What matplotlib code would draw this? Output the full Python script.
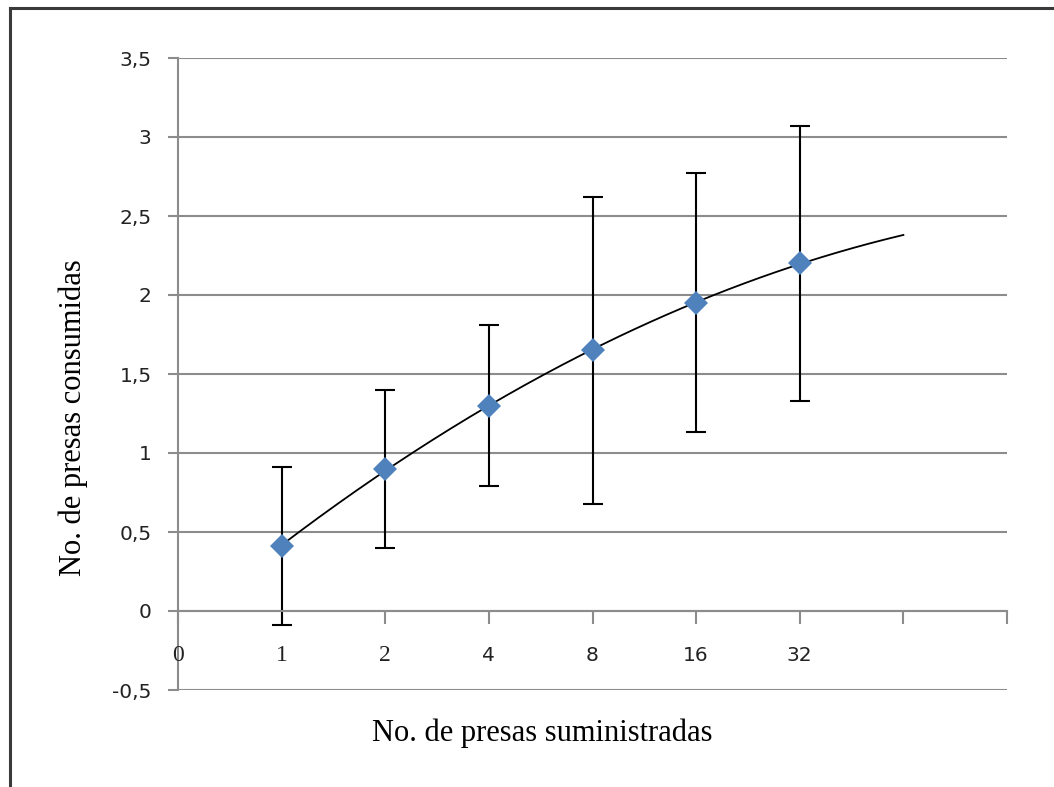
import numpy as np
import matplotlib
matplotlib.use("Agg")
import matplotlib.pyplot as plt
from matplotlib.lines import Line2D

# Prey offered vs prey consumed (mean +/- SD)
labels = ["1", "2", "4", "8", "16", "32"]
consumed = [0.41, 0.90, 1.30, 1.65, 1.95, 2.20]
sd = [0.50, 0.50, 0.51, 0.97, 0.82, 0.87]

pos = np.arange(1, len(labels) + 1)

W, H = 1054, 787
fig = plt.figure(figsize=(W / 100, H / 100), dpi=100)
ax = fig.add_axes([178 / W, 1 - 690 / H, (1007 - 178) / W, (690 - 58) / H])

grid_col = "#8c8c8c"
ax.set_xlim(0, 8)
ax.set_ylim(-0.5, 3.5)
yt = np.arange(-0.5, 3.51, 0.5)
ax.set_yticks(yt)
ax.set_yticklabels([("%g" % v).replace(".", ",") for v in yt],
                   fontsize=14.5, color="#222222")
for v in yt:
    ax.axhline(v, color=grid_col, lw=1.5, zorder=0)
ax.tick_params(axis="y", length=7, width=1.5, color=grid_col, pad=12)

# x axis crosses at zero
ax.spines["bottom"].set_position(("data", 0))
ax.spines["bottom"].set_color(grid_col)
ax.spines["bottom"].set_linewidth(1.5)
ax.spines["left"].set_color(grid_col)
ax.spines["left"].set_linewidth(1.5)
ax.spines["top"].set_visible(False)
ax.spines["right"].set_visible(False)
ax.set_xticks(np.arange(0, 9))
ax.set_xticklabels([])
ax.tick_params(axis="x", direction="out", length=9, width=1.5, color=grid_col)

# category labels under the axis
ax.text(0, -0.28, "0", ha="center", va="center", fontsize=17,
        family="Liberation Serif", color="#222222")
for p, lab in zip(pos, labels):
    serif = lab in ("1", "2")
    ax.text(p, -0.28, lab, ha="center", va="center",
            fontsize=17 if serif else 14.5,
            family="Liberation Serif" if serif else "DejaVu Sans",
            color="#222222")

# trend line (2nd order), extended one step forward
coef = np.polyfit(pos, consumed, 2)
xs = np.linspace(1, 7, 200)
ax.plot(xs, np.polyval(coef, xs), color="black", lw=1.3, zorder=3)

ax.errorbar(pos, consumed, yerr=sd, fmt="none", ecolor="black",
            elinewidth=1.5, capsize=7, capthick=1.5, zorder=2)
ax.plot(pos, consumed, "D", color="#4f81bd", markersize=12.5,
        markeredgewidth=0, zorder=4)

fig.text(542 / W, 1 - 733 / H, "No. de presas suministradas",
         ha="center", va="center", fontsize=22, family="Liberation Serif")
fig.text(73 / W, 1 - 418 / H, "No. de presas consumidas", rotation=90,
         ha="center", va="center", fontsize=22, family="Liberation Serif")

# outer chart frame
fig.add_artist(Line2D([10 / W, 10 / W], [1 - 8 / H, 0], color="#3a3a3a",
                      lw=2.2, transform=fig.transFigure))
fig.add_artist(Line2D([10 / W, 1], [1 - 8 / H, 1 - 8 / H], color="#3a3a3a",
                      lw=2.2, transform=fig.transFigure))

fig.savefig("out.png", dpi=100)
